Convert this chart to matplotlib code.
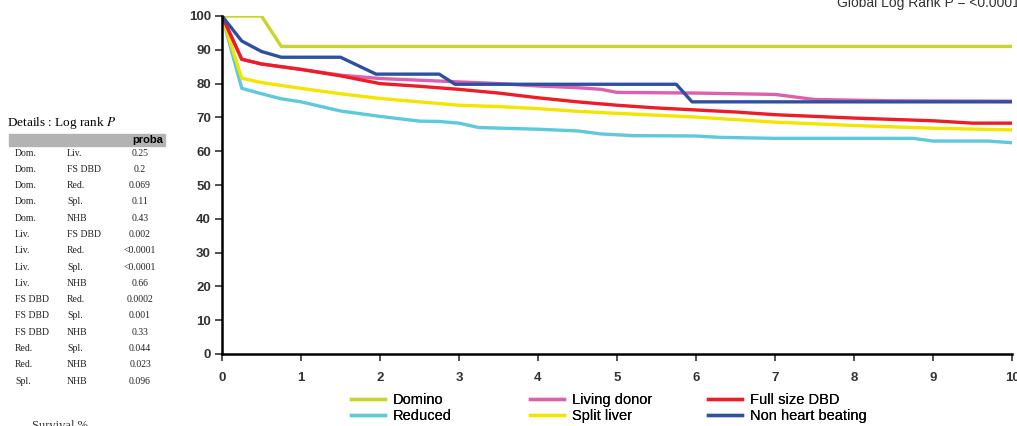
import matplotlib
matplotlib.use("Agg")
import matplotlib.pyplot as plt
from matplotlib.patches import Rectangle

# Survival curves (years vs survival %)
t_domino = [0, 0.5, 0.75, 10]
v_domino = [100, 100, 91, 91]

t_nhb = [0, 0.25, 0.5, 0.75, 1.5, 1.95, 2.75, 2.95, 5.75, 5.95, 10]
v_nhb = [100, 92.6, 89.5, 87.8, 87.8, 82.8, 82.8, 79.8, 79.8, 74.6, 74.6]

t_living = [0, 0.25, 0.5, 1, 1.5, 2, 2.5, 3, 3.5, 4, 4.5, 4.8, 5, 6, 7, 7.5, 8.5, 10]
v_living = [100, 87.2, 85.8, 84.2, 82.5, 81.5, 81.0, 80.5, 80.0, 79.3, 78.8, 78.3, 77.4, 77.2, 76.8, 75.3, 74.9, 74.8]

t_full = [0, 0.25, 0.5, 1, 1.5, 2, 2.5, 3, 3.5, 4, 4.5, 5, 5.5, 6, 6.5, 7, 7.5, 8, 8.5, 9, 9.5, 10]
v_full = [100, 87.2, 85.8, 84.2, 82.3, 80.0, 79.2, 78.3, 77.2, 75.8, 74.6, 73.6, 72.8, 72.2, 71.6, 70.8, 70.3, 69.8, 69.4, 69.0, 68.3, 68.3]

t_split = [0, 0.25, 0.5, 1, 1.5, 2, 2.5, 3, 3.5, 4, 4.5, 5, 6, 7, 8, 9, 10]
v_split = [100, 81.6, 80.3, 78.6, 77.0, 75.6, 74.6, 73.6, 73.2, 72.6, 71.8, 71.2, 70.1, 68.6, 67.6, 66.8, 66.3]

t_reduced = [0, 0.25, 0.5, 0.75, 1, 1.5, 2, 2.5, 2.75, 3, 3.25, 4, 4.5, 4.8, 5.2, 6, 6.3, 7, 8.75, 9, 9.7, 10]
v_reduced = [100, 78.6, 77, 75.5, 74.6, 71.9, 70.3, 68.9, 68.8, 68.3, 67.0, 66.5, 66.0, 65.1, 64.6, 64.5, 64.1, 63.8, 63.8, 63.0, 63.0, 62.5]

# Pairwise log rank table
pair_a = ["Dom.", "Dom.", "Dom.", "Dom.", "Dom.", "Liv.", "Liv.", "Liv.", "Liv.",
          "FS DBD", "FS DBD", "FS DBD", "Red.", "Red.", "Spl."]
pair_b = ["Liv.", "FS DBD", "Red.", "Spl.", "NHB", "FS DBD", "Red.", "Spl.", "NHB",
          "Red.", "Spl.", "NHB", "Spl.", "NHB", "NHB"]
proba = ["0.25", "0.2", "0.069", "0.11", "0.43", "0.002", "<0.0001", "<0.0001", "0.66",
         "0.0002", "0.001", "0.33", "0.044", "0.023", "0.096"]

W, H = 1017, 426
fig = plt.figure(figsize=(W / 100, H / 100), dpi=100)
ax = fig.add_axes([222 / W, 1 - 354 / H, 790 / W, 338 / H])

sans = ["Liberation Sans", "DejaVu Sans"]
serif = ["Liberation Serif", "DejaVu Serif"]
lw = 2.4

ax.plot(t_domino, v_domino, color="#c9d52c", lw=lw, label="Domino")
ax.plot(t_reduced, v_reduced, color="#5fc9dc", lw=lw, label="Reduced")
ax.plot(t_split, v_split, color="#f4e500", lw=lw, label="Split liver")
ax.plot(t_living, v_living, color="#dd5fae", lw=lw, label="Living donor")
ax.plot(t_full, v_full, color="#ee1d25", lw=lw, label="Full size DBD")
ax.plot(t_nhb, v_nhb, color="#2e50a2", lw=lw, label="Non heart beating")

ax.set_xlim(0, 10)
ax.set_ylim(0, 100)
ax.set_xticks(range(0, 11))
ax.set_yticks(range(0, 101, 10))
for s in ["top", "right"]:
    ax.spines[s].set_visible(False)
ax.spines["left"].set_linewidth(1.8)
ax.spines["bottom"].set_linewidth(1.8)
ax.tick_params(direction="out", length=5, width=1.2, colors="#333333",
               labelsize=9.5, pad=3)
ax.tick_params(axis="x", pad=8)
for lab in ax.get_xticklabels() + ax.get_yticklabels():
    lab.set_family(sans)
    lab.set_fontweight("bold")
    lab.set_color("#333333")

# legend: three columns placed separately
handles, labels = ax.get_legend_handles_labels()
hmap = dict(zip(labels, handles))
columns = [(["Domino", "Reduced"], 351),
           (["Living donor", "Split liver"], 530),
           (["Full size DBD", "Non heart beating"], 708)]
for names, xpix in columns:
    leg = fig.legend([hmap[k] for k in names], names, loc="upper left",
                     bbox_to_anchor=(xpix / W, 1 - 393 / H), frameon=False,
                     prop={"family": sans, "size": 10.5}, handlelength=2.3,
                     handletextpad=0.55, labelspacing=0.12, borderpad=0,
                     borderaxespad=0)
    fig.add_artist(leg)

fig.text(1 - 180 / W, 1 - 3 / H, "Global Log Rank P = <0.0001", family=sans,
         fontsize=10, color="#333333", va="center", ha="left")
fig.text(32 / W, 1 - 426 / H, "Survival %", family=serif, fontsize=9,
         color="#333333", va="center", ha="left")

# table
fig.text(7 / W, 1 - 123 / H, "Details : Log rank $P$", family=serif, fontsize=9.5,
         va="center", ha="left", math_fontfamily="stix")
fig.patches.append(Rectangle((9 / W, 1 - 146 / H), 156 / W, 12 / H,
                             transform=fig.transFigure, color="#b3b3b3", zorder=0))
fig.text(163 / W, 1 - 140 / H, "proba", family=sans, fontsize=8, fontweight="bold",
         va="center", ha="right")
y0, dy = 153, 16.3
for i, (a, b, p) in enumerate(zip(pair_a, pair_b, proba)):
    y = 1 - (y0 + i * dy) / H
    fig.text(15 / W, y, a, family=serif, fontsize=7, va="center", ha="left", color="#222222")
    fig.text(67 / W, y, b, family=serif, fontsize=7, va="center", ha="left", color="#222222")
    fig.text(140 / W, y, p, family=serif, fontsize=7, va="center", ha="center", color="#222222")

fig.savefig("out.png", dpi=100)
